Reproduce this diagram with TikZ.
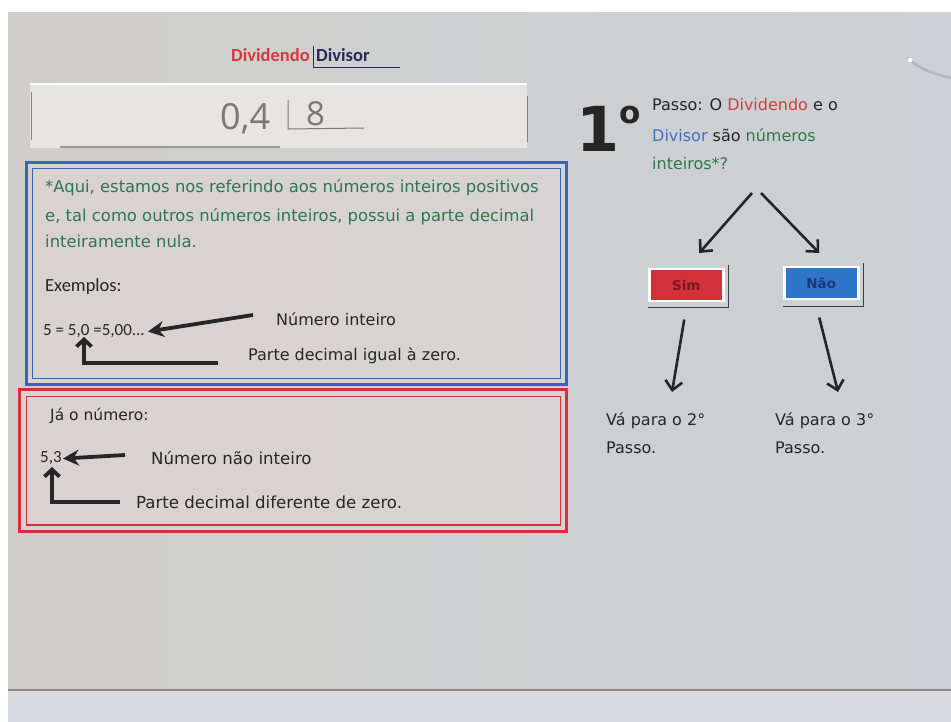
\documentclass[tikz,border=0pt]{standalone}
\usepackage{fontspec}
\setmainfont{DejaVu Sans}
\newfontfamily\calib{Carlito}
\newfontfamily\hand{Open Sans}
\usetikzlibrary{arrows.meta,calc}

\definecolor{board}{RGB}{208,206,203}
\definecolor{boardmid}{RGB}{200,192,192}
\definecolor{boardright}{RGB}{204,209,213}
\definecolor{strip}{RGB}{216,220,224}
\definecolor{paper}{RGB}{230,229,226}
\definecolor{panel}{RGB}{222,214,214}
\definecolor{txtgreen}{RGB}{48,118,78}
\definecolor{txtred}{RGB}{214,58,62}
\definecolor{txtblue}{RGB}{66,112,190}
\definecolor{navy}{RGB}{40,42,90}
\definecolor{ink}{RGB}{38,38,38}
\definecolor{pencil}{RGB}{120,120,118}
\definecolor{frameblue}{RGB}{58,100,180}
\definecolor{framered}{RGB}{214,48,58}
\definecolor{simred}{RGB}{212,48,58}
\definecolor{simtxt}{RGB}{120,24,34}
\definecolor{naoblue}{RGB}{48,118,200}
\definecolor{naotxt}{RGB}{28,56,120}
\definecolor{shadowline}{RGB}{70,60,70}
\definecolor{ring}{RGB}{180,183,188}

\tikzset{
  txt/.style={anchor=base west, inner sep=0pt, font=\fontsize{16}{18}\selectfont},
  greentxt/.style={txt, text=txtgreen, font=\fontsize{16.4}{18}\selectfont},
  redboxtxt/.style={txt, text=ink, font=\fontsize{16.6}{18}\selectfont},
  smalltxt/.style={anchor=base west, inner sep=0pt, font=\calib\fontsize{17}{19}\selectfont},
  bigarrow/.style={line width=3.8pt, draw=ink, -{Stealth[length=16pt,width=16pt]}},
  elbowarrow/.style={line width=3.8pt, draw=ink, -{Straight Barb[length=7pt,width=15pt]}},
  flowarrow/.style={line width=2.6pt, draw=ink, -{Straight Barb[length=9pt,width=17pt]}},
  answer/.style={minimum width=74pt, minimum height=32pt, inner sep=0pt, anchor=north west,
                 draw=white, line width=2.5pt, font=\bfseries\fontsize{13.5}{15}\selectfont},
}

\begin{document}
\begin{tikzpicture}[x=1pt,y=-1pt]
\useasboundingbox (0,0) rectangle (951,722);
\fill[white] (0,0) rectangle (951,722);

% the board and its lower edge
\shade[left color=board, middle color=boardmid, right color=boardright] (8,13) rectangle (951,690);
\fill[strip] (8,690) rectangle (951,722);
\draw[line width=1.5pt, color=boardmid!70!black] (8,690) -- (951,690);

% binder ring
\draw[line width=2.5pt, color=ring, line cap=round] (908,58) .. controls (920,70) and (935,74) .. (951,78);
\fill[white] (910,60) circle (2.5);

% heading above the strip
\node[anchor=base west, inner sep=0pt, text=txtred, font=\calib\bfseries\fontsize{18.5}{20}\selectfont] (dvd) at (231,62) {Dividendo};
\node[anchor=base west, inner sep=0pt, text=navy, font=\calib\bfseries\fontsize{18.5}{20}\selectfont] (dvs) at (316,62) {Divisor};
\draw[line width=1pt, navy] (313,46) -- (313,68) -- (400,68);

% paper strip with the handwritten division
\fill[paper] (30,84) rectangle (527,148);
\draw[line width=1.5pt, white] (30,84) -- (527,84);
\draw[line width=1pt, gray] (31,92) -- (31,140);
\draw[line width=1pt, gray] (527,96) -- (527,142);
\draw[line width=1.5pt, gray!80] (60,147) -- (280,147);
\node[anchor=base west, inner sep=0pt, text=pencil, font=\hand\fontsize{36}{36}\selectfont] (dd) at (220,130) {0,4};
\node[anchor=base west, inner sep=0pt, text=pencil, font=\hand\fontsize{33}{33}\selectfont] (ds) at (306,126) {8};
\draw[line width=1pt, pencil] (288,100) -- (288,129) -- (364,128);

% blue frame
\fill[panel, opacity=0.6] (25,161) rectangle (568,386);
\draw[frameblue, line width=3.5pt] (26.5,162.5) rectangle (566.5,384.5);
\draw[frameblue, line width=1.6pt] (32.5,168.5) rectangle (560.5,378.5);

\node[greentxt] (l1) at (45,193) {*Aqui, estamos nos referindo aos números inteiros positivos};
\node[greentxt] (l2) at (45,222) {e, tal como outros números inteiros, possui a parte decimal};
\node[greentxt] (l3) at (45,248) {inteiramente nula.};
\node[anchor=base west, inner sep=0pt, text=ink, font=\calib\fontsize{18.5}{20}\selectfont] (ex) at (45,291) {Exemplos:};
\node[smalltxt, text=ink] (ex5) at (43,335) {5 = 5,0 =5,00...};
\node[txt, text=ink] (ni) at (276,326) {Número inteiro};
\node[txt, text=ink] (pd) at (248,360) {Parte decimal igual à zero.};

\coordinate (a1) at (253,315);
\draw[bigarrow] (a1) -- ([xshift=3pt,yshift=-1pt]ex5.east);
\coordinate (a2) at (218,363);
\coordinate (zero) at (84,337);
\draw[elbowarrow] (a2) -- (84,363) -- (zero);

% red frame
\fill[panel, opacity=0.6] (18,388) rectangle (568,533);
\draw[framered, line width=3.5pt] (19.5,389.5) rectangle (566.5,531.5);
\draw[framered, line width=1.6pt] (26.5,396.5) rectangle (560.5,525);

\node[txt, text=ink, font=\fontsize{15.5}{17}\selectfont] (ja) at (50,420) {Já o número:};
\node[smalltxt, text=ink] (n53) at (40,462) {5,3};
\node[redboxtxt] (nni) at (151,464) {Número não inteiro};
\node[redboxtxt] (pdd) at (136,508) {Parte decimal diferente de zero.};

\coordinate (b1) at (125,455);
\draw[bigarrow] (b1) -- ([xshift=1pt,yshift=-1pt]n53.east);
\coordinate (b2) at (120,502);
\coordinate (three) at (52,467);
\draw[elbowarrow] (b2) -- (52,502) -- (three);

% first step
\node[anchor=base west, inner sep=0pt, text=ink, font=\bfseries\fontsize{62}{62}\selectfont] (one) at (576,152)
  {1\raisebox{28pt}{\fontsize{31}{31}\selectfont o}};
\node[txt, text=ink] (q1) at (652,111) {Passo: O \textcolor{txtred}{Dividendo} e o};
\node[txt, text=ink] (q2) at (652,142) {\textcolor{txtblue}{Divisor} são \textcolor{txtgreen}{números}};
\node[txt, text=txtgreen] (q3) at (652,170) {inteiros*?};

\node[answer, fill=simred, text=simtxt] (sim) at (648,268) {Sim};
\node[answer, fill=naoblue, text=naotxt] (nao) at (783,266) {Não};
\draw[shadowline, line width=1.8pt] ($(sim.north east)+(4,-3)$) -- ($(sim.south east)+(4,5)$) -- ($(sim.south west)+(0,5)$);
\draw[shadowline, line width=1.8pt] ($(nao.north east)+(4,-3)$) -- ($(nao.south east)+(4,6)$) -- ($(nao.south west)+(0,6)$);

\coordinate (qa) at (752,193);
\coordinate (qb) at (761,193);
\draw[flowarrow] (qa) -- ($(sim.north)+(13,-15)$);
\draw[flowarrow] (qb) -- ($(nao.north)+(-2,-13)$);

\node[txt, text=ink] (go2) at (606,425) {Vá para o 2°};
\node[txt, text=ink] (go2b) at (606,453) {Passo.};
\node[txt, text=ink] (go3) at (775,425) {Vá para o 3°};
\node[txt, text=ink] (go3b) at (775,453) {Passo.};

\draw[flowarrow] ($(sim.south)+(-2,17)$) -- ($(go2.base west)+(66,-33)$);
\draw[flowarrow] ($(nao.south)+(-2,17)$) -- ($(go3.base west)+(63,-33)$);
\end{tikzpicture}
\end{document}
